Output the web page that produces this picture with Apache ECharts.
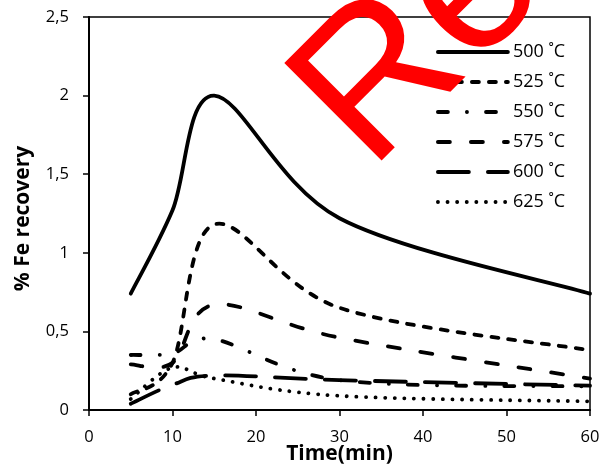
<!DOCTYPE html>
<html>
<head>
<meta charset="utf-8">
<script src="https://cdn.jsdelivr.net/npm/echarts@6/dist/echarts.min.js"></script>
<style>
  html, body { margin: 0; padding: 0; background: #fff; }
  #chart { width: 602px; height: 466px; }
</style>
</head>
<body>
<div id="chart"></div>
<script>
// Sampling times (min)
const times = [5, 10, 15, 30, 60];

// % Fe recovery at each temperature
const fe500 = [0.74, 1.27, 2.00, 1.22, 0.74];
const fe525 = [0.10, 0.30, 1.18, 0.65, 0.38];
const fe550 = [0.35, 0.36, 0.45, 0.19, 0.15];
const fe575 = [0.29, 0.30, 0.67, 0.46, 0.20];
const fe600 = [0.04, 0.16, 0.22, 0.19, 0.155];
const fe625 = [0.07, 0.27, 0.20, 0.09, 0.055];

const seriesNames = ['500 ˚C', '525 ˚C', '550 ˚C', '575 ˚C', '600 ˚C', '625 ˚C'];
const seriesValues = [fe500, fe525, fe550, fe575, fe600, fe625];

// Axis ticks
const xTicks = { min: 0, max: 60, interval: 10 };
const yTicks = { min: 0, max: 2.5, interval: 0.5 };

const FONT = '"Open Sans", "Liberation Sans", sans-serif';
const lineWidth = 3.8;
const dashStyles = [
  'solid',
  [7, 10],
  [10, 19, 0.1, 19],
  [12, 21],
  [31, 19],
  [0.1, 9.5]
];

const commaNum = v => String(v).replace('.', ',');

// Smoothed curve through the data points: cubic Bezier segments whose
// control points follow the neighbouring points (1/6 of the chord P[i+1]-P[i-1]).
function smoothPath(pts) {
  let d = 'M' + pts[0][0] + ' ' + pts[0][1];
  for (let j = 0; j < pts.length - 1; j++) {
    const p0 = pts[j - 1] || pts[j];
    const p1 = pts[j];
    const p2 = pts[j + 1];
    const p3 = pts[j + 2] || pts[j + 1];
    const c1x = p1[0] + (p2[0] - p0[0]) / 6;
    const c1y = p1[1] + (p2[1] - p0[1]) / 6;
    const c2x = p2[0] - (p3[0] - p1[0]) / 6;
    const c2y = p2[1] - (p3[1] - p1[1]) / 6;
    d += ' C' + c1x + ' ' + c1y + ' ' + c2x + ' ' + c2y + ' ' + p2[0] + ' ' + p2[1];
  }
  return d;
}

function curveRenderer(idx) {
  return function (params, api) {
    if (params.dataIndexInside !== 0) return null;
    const n = params.dataInsideLength;
    const pts = [];
    for (let j = 0; j < n; j++) {
      pts.push(api.coord([api.value(0, j), api.value(1, j)]));
    }
    const dash = dashStyles[idx];
    return {
      type: 'path',
      shape: { pathData: smoothPath(pts) },
      style: {
        fill: 'none',
        stroke: '#000',
        lineWidth: lineWidth,
        lineDash: dash === 'solid' ? null : dash,
        lineCap: 'round',
        lineJoin: 'round'
      },
      silent: true
    };
  };
}

// Legend entries (line samples) and the curves themselves
const legendSeries = seriesNames.map((name, i) => ({
  name: name,
  type: 'line',
  symbol: 'none',
  data: [],
  lineStyle: { color: '#000', width: lineWidth, type: dashStyles[i], cap: 'round' },
  itemStyle: { color: '#000' }
}));

const curveSeries = seriesNames.map((name, i) => ({
  name: name,
  type: 'custom',
  renderItem: curveRenderer(i),
  encode: { x: 0, y: 1 },
  data: times.map((t, k) => [t, seriesValues[i][k]]),
  itemStyle: { color: '#000' }
}));

const chart = echarts.init(document.getElementById('chart'), null, { renderer: 'canvas' });
chart.setOption({
  animation: false,
  backgroundColor: '#fff',
  grid: {
    left: 89, right: 12, top: 17, bottom: 56,
    outerBoundsMode: 'none',
    containLabel: false,
    show: true, borderColor: '#000', borderWidth: 1.5
  },
  legend: {
    orient: 'vertical',
    left: 431,
    top: 38,
    itemWidth: 70,
    itemHeight: 14,
    itemGap: 12,
    itemStyle: { opacity: 0 },
    lineStyle: { width: lineWidth, cap: 'round' },
    textStyle: { fontFamily: FONT, fontSize: 18, color: '#000' },
    data: seriesNames
  },
  xAxis: {
    type: 'value',
    min: xTicks.min, max: xTicks.max, interval: xTicks.interval,
    name: 'Time(min)',
    nameLocation: 'middle',
    nameGap: 34,
    nameMoveOverlap: false,
    nameTextStyle: { fontFamily: FONT, fontSize: 21, fontWeight: 'bold', color: '#000' },
    axisLine: { lineStyle: { color: '#000', width: 2 } },
    axisTick: { show: true, inside: false, length: 6, lineStyle: { color: '#000', width: 1.5 } },
    axisLabel: { fontFamily: FONT, fontSize: 16.5, color: '#000', margin: 19 },
    splitLine: { show: false }
  },
  yAxis: {
    type: 'value',
    min: yTicks.min, max: yTicks.max, interval: yTicks.interval,
    name: '% Fe recovery',
    nameLocation: 'middle',
    nameGap: 55,
    nameRotate: 90,
    nameMoveOverlap: false,
    nameTextStyle: {
      fontFamily: FONT, fontSize: 21, fontWeight: 'bold', color: '#000',
      padding: [0, 10, 0, 0]
    },
    axisLine: { show: true, lineStyle: { color: '#000', width: 2 } },
    axisTick: { show: true, inside: false, length: 6, lineStyle: { color: '#000', width: 1.5 } },
    axisLabel: { fontFamily: FONT, fontSize: 16.5, color: '#000', margin: 20, formatter: commaNum },
    splitLine: { show: false }
  },
  graphic: [{
    type: 'text',
    x: 331,
    y: 133,
    rotation: Math.PI / 4,
    z: 100,
    style: {
      text: 'Re',
      font: '200px "Liberation Sans", sans-serif',
      fill: '#ff0000',
      textAlign: 'left',
      textVerticalAlign: 'middle'
    }
  }],
  series: legendSeries.concat(curveSeries)
});
</script>
</body>
</html>
